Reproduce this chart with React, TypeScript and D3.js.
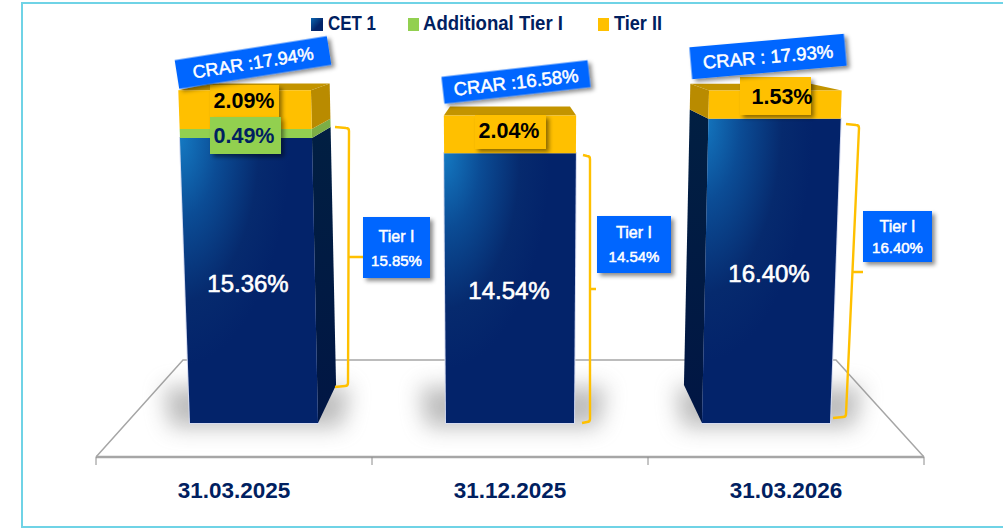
import React from "react";
import * as d3 from "d3";

const categories = ["31.03.2025", "31.12.2025", "31.03.2026"];
const cet1 = [15.36, 14.54, 16.4];
const additionalTier1 = [0.49, 0, 0];
const tier2 = [2.09, 2.04, 1.53];
const crar = ["17.94", "16.58", "17.93"];
const crarSep = ["CRAR :", "CRAR :", "CRAR : "];
const tier1 = ["15.85", "14.54", "16.40"];
const legendNames = ["CET 1", "Additional Tier I", "Tier II"];

const NAVY = "#002060", GOLD = "#FFC000", GREEN = "#92D050", BLUE = "#0066FF", BORDER = "#6FD3E6", GRID = "#A6A6A6";
const SANS = "'Liberation Sans', Arial, sans-serif";
const NARROW = "'Liberation Sans Narrow', 'Liberation Sans', sans-serif";

// chart frame
const baseY = 423, vx = 510, vy = 19, depth = 0.906, lean = 1.1e-4;
const axisScale = d3.scaleBand<string>().domain(categories).range([96, 924]);
const barScale = d3.scaleBand<string>().domain(categories).range([126, 894]).paddingInner(0.5).paddingOuter(0.25);
const y = d3.scaleLinear().domain([0, 20]).range([baseY, baseY - 371]);

// front plane leans outward with height
const front = (x: number, py: number): [number, number] => [vx + (x - vx) * (1 + lean * (baseY - py)), py];
const back = (p: [number, number]): [number, number] => [vx + (p[0] - vx) * depth, vy + (p[1] - vy) * depth];
const poly = d3.line<[number, number]>().curve(d3.curveLinearClosed);

// annotation layout
const crarBoxes = [
  { cx: 253, cy: 62.5, w: 154, h: 29, a: -9, fs: 18 },
  { cx: 516, cy: 82, w: 147, h: 27, a: -6.5, fs: 18.5 },
  { cx: 768, cy: 56.5, w: 155, h: 32, a: -5, fs: 18.5 },
];
const tier2Boxes = [
  { x: 210, y: 85, w: 69, h: 32, tx: 244, ty: 100 },
  { x: 475, y: 115, w: 71, h: 34, tx: 509, ty: 130 },
  { x: 740, y: 77, w: 71, h: 38, tx: 782, ty: 96 },
];
const at1Box = { x: 210, y: 117, w: 71, h: 37, tx: 244, ty: 135 };
const tierBoxes = [
  { x: 363, y: 217, w: 67, h: 61, l1: 236, l2: 261 },
  { x: 597, y: 216, w: 74, h: 57, l1: 232, l2: 257 },
  { x: 863, y: 211, w: 69, h: 51, l1: 226, l2: 248 },
];
const brackets = [
  { x0: 335, y0: 127, xt: 349, xb: 348, x1: 335, y1: 387, ny: 257, nx: 363 },
  { x0: 583, y0: 155, xt: 590, xb: 590, x1: 582, y1: 423, ny: 289, nx: 596 },
  { x0: 846, y0: 124, xt: 859, xb: 846, x1: 833, y1: 418, ny: 272, nx: 863 },
];
const valueLabels = [
  { x: 248, y: 283 },
  { x: 509, y: 290 },
  { x: 769, y: 273 },
];
const legendItems = [
  { sx: 311, sw: 12, tx: 328, tw: 48, fill: "url(#legendNavy)" },
  { sx: 408, sw: 11, tx: 423, tw: 140, fill: GREEN },
  { sx: 598, sw: 11, tx: 614, tw: 48, fill: GOLD },
];

function bracketPath(b: typeof brackets[number]) {
  const p = d3.path();
  const r = 3;
  p.moveTo(b.x0, b.y0);
  p.lineTo(b.xt - r, b.y0 + 1);
  p.quadraticCurveTo(b.xt, b.y0 + 1, b.xt, b.y0 + 4);
  const t = (b.ny - b.y0) / (b.y1 - b.y0);
  const xm = b.xt + (b.xb - b.xt) * t;
  p.lineTo(xm, b.ny);
  p.lineTo(b.xb, b.y1 - 4);
  p.quadraticCurveTo(b.xb, b.y1 - 1, b.xb - r, b.y1 - 1);
  p.lineTo(b.x1, b.y1);
  p.moveTo(xm, b.ny);
  p.lineTo(b.nx, b.ny);
  return p.toString();
}

export default function App() {
  const floorBack = 360, floorFront = 457;
  const floorL = axisScale.range()[0], floorR = axisScale.range()[1];
  return (
    <svg width={1003} height={529} style={{ position: "absolute", left: 0, top: 0, background: "#fff" }}>
      <defs>
        <radialGradient id="navyFront" cx="0" cy="0" r="0.8">
          <stop offset="0" stopColor="#1479C2" />
          <stop offset="0.35" stopColor="#0B4C95" />
          <stop offset="0.72" stopColor="#062A6E" />
          <stop offset="1" stopColor="#03236A" />
        </radialGradient>
        <linearGradient id="navySide" x1="0" y1="0" x2="0" y2="1">
          <stop offset="0" stopColor="#011F42" />
          <stop offset="1" stopColor="#011644" />
        </linearGradient>
        <linearGradient id="legendNavy" x1="0" y1="0" x2="1" y2="1">
          <stop offset="0" stopColor="#0B66B0" />
          <stop offset="0.6" stopColor="#03246A" />
        </linearGradient>
        <filter id="soft" x="-50%" y="-120%" width="200%" height="340%">
          <feGaussianBlur stdDeviation="11" />
        </filter>
        <filter id="drop" x="-20%" y="-30%" width="150%" height="170%">
          <feDropShadow dx="3" dy="3" stdDeviation="2" floodColor="#000" floodOpacity="0.45" />
        </filter>
      </defs>

      {/* card border */}
      <path d={`M1003,3H22V527H1003`} fill="none" stroke={BORDER} strokeWidth={2} />

      {/* legend */}
      {legendNames.map((n, i) => {
        const l = legendItems[i];
        return (
          <g key={n}>
            <rect x={l.sx} y={18} width={l.sw} height={13} fill={l.fill} />
            <text x={l.tx} y={30} textLength={l.tw} lengthAdjust="spacingAndGlyphs" fontFamily={NARROW} fontWeight={700} fontSize={20} fill={NAVY}>{n}</text>
          </g>
        );
      })}

      {/* floor */}
      <g fill="none" stroke={GRID}>
        <path d={`M${floorL},${floorFront}L183,${floorBack}H836L${floorR},${floorFront}`} strokeWidth={1.5} />
        <path d={`M${floorL},${floorFront}H${floorR}`} strokeWidth={2.4} />
        {[...categories.map((c) => axisScale(c)!), floorR].map((t) => (
          <path key={t} d={`M${t},${floorFront}V${floorFront + 8}`} strokeWidth={1} stroke="#8c8c8c" />
        ))}
      </g>

      {/* bars */}
      {categories.map((c, i) => {
        const x0 = barScale(c)!, x1 = x0 + barScale.bandwidth();
        const segments = [
          { a: 0, b: cet1[i], fill: "url(#navyFront)", side: "url(#navySide)" },
          { a: cet1[i], b: cet1[i] + additionalTier1[i], fill: GREEN, side: "#7CAE45" },
          { a: cet1[i] + additionalTier1[i], b: cet1[i] + additionalTier1[i] + tier2[i], fill: GOLD, side: "#B98B00" },
        ].filter((s) => s.b > s.a);
        const topY = y(cet1[i] + additionalTier1[i] + tier2[i]);
        const showRight = back(front(x1, baseY))[0] > x1;
        const showLeft = back(front(x0, baseY))[0] < x0;
        const tl = front(x0, topY), tr = front(x1, topY);
        const nTop = y(cet1[i]);
        return (
          <g key={c}>
            <path
              d={poly([[x0 - 20, baseY + 4], [x1 + 24, baseY + 4], [x1 + 32, baseY - 36], [x0 - 26, baseY - 36]])!}
              fill="#7a7a7a"
              opacity={0.5}
              filter="url(#soft)"
            />
            <path
              d={poly([front(x0, baseY), front(x1, baseY), front(x1, nTop), front(x0, nTop)])!}
              fill="none"
              stroke="#D5DBF0"
              strokeWidth={2}
            />
            <path d={poly([tl, tr, back(tr), back(tl)])!} fill="#C39400" />
            {segments.map((s) => {
              const a = y(s.a), b = y(s.b);
              const fa0 = front(x0, a), fa1 = front(x1, a), fb0 = front(x0, b), fb1 = front(x1, b);
              return (
                <g key={s.fill}>
                  {showRight && <path d={poly([fa1, fb1, back(fb1), back(fa1)])!} fill={s.side} />}
                  {showLeft && <path d={poly([fa0, fb0, back(fb0), back(fa0)])!} fill={s.side} />}
                  <path d={poly([fa0, fa1, fb1, fb0])!} fill={s.fill} />
                </g>
              );
            })}
          </g>
        );
      })}

      {/* Tier I brackets */}
      {brackets.map((b, i) => (
        <path key={i} d={bracketPath(b)} fill="none" stroke={GOLD} strokeWidth={2.4} />
      ))}

      {/* inner value labels */}
      {cet1.map((v, i) => (
        <text key={i} x={valueLabels[i].x} y={valueLabels[i].y} dy="0.36em" textAnchor="middle" fontFamily={SANS} fontSize={24} fill="#fff" stroke="#fff" strokeWidth={0.6}>
          {v.toFixed(2)}%
        </text>
      ))}

      {/* Tier II labels */}
      {tier2.map((v, i) => {
        const b = tier2Boxes[i];
        return (
          <g key={i}>
            <rect x={b.x} y={b.y} width={b.w} height={b.h} fill={GOLD} filter="url(#drop)" />
            <text x={b.tx} y={b.ty} dy="0.36em" textAnchor="middle" fontFamily={SANS} fontWeight={700} fontSize={21.5} fill="#000">{v.toFixed(2)}%</text>
          </g>
        );
      })}

      {/* Additional Tier I label */}
      <rect x={at1Box.x} y={at1Box.y} width={at1Box.w} height={at1Box.h} fill={GREEN} filter="url(#drop)" />
      <text x={at1Box.tx} y={at1Box.ty} dy="0.36em" textAnchor="middle" fontFamily={SANS} fontWeight={700} fontSize={21.5} fill={NAVY}>
        {additionalTier1[0].toFixed(2)}%
      </text>

      {/* Tier I boxes */}
      {tier1.map((v, i) => {
        const b = tierBoxes[i];
        const cx = b.x + b.w / 2;
        return (
          <g key={i} fill="#fff" fontFamily={SANS} textAnchor="middle">
            <rect x={b.x} y={b.y} width={b.w} height={b.h} fill={BLUE} filter="url(#drop)" />
            <text x={cx} y={b.l1} dy="0.36em" fontSize={16} stroke="#fff" strokeWidth={0.5}>Tier I</text>
            <text x={cx} y={b.l2} dy="0.36em" fontSize={15} stroke="#fff" strokeWidth={0.5}>{v}%</text>
          </g>
        );
      })}

      {/* CRAR ribbons */}
      {crar.map((v, i) => {
        const b = crarBoxes[i];
        return (
          <g key={i} transform={`translate(${b.cx},${b.cy}) rotate(${b.a})`}>
            <rect x={-b.w / 2} y={-b.h / 2} width={b.w} height={b.h} fill={BLUE} filter="url(#drop)" />
            <text x={0} y={0} dy="0.36em" textAnchor="middle" fontFamily={SANS} fontSize={b.fs} fill="#fff" stroke="#fff" strokeWidth={0.5}>
              {crarSep[i]}{v}%
            </text>
          </g>
        );
      })}

      {/* category labels */}
      {categories.map((c) => (
        <text key={c} x={axisScale(c)! + axisScale.bandwidth() / 2} y={490} dy="0.36em" textAnchor="middle" fontFamily={SANS} fontWeight={700} fontSize={22.5} fill={NAVY}>
          {c}
        </text>
      ))}
    </svg>
  );
}
